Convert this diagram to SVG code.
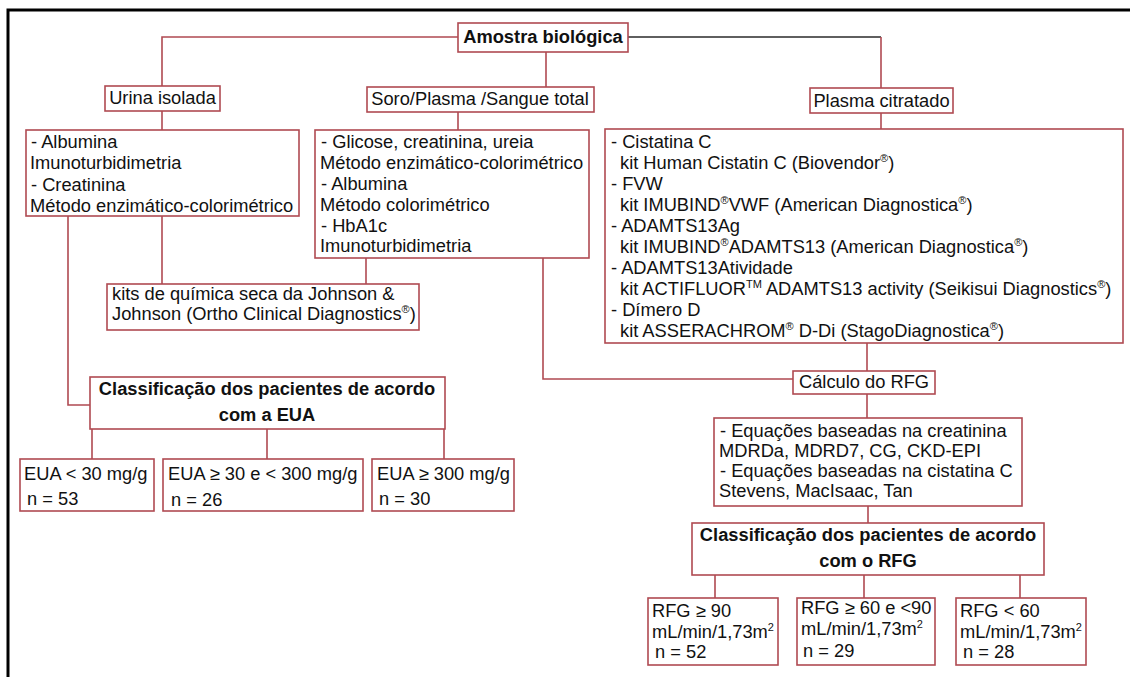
<svg xmlns="http://www.w3.org/2000/svg" width="1130" height="677" viewBox="0 0 1130 677">
<style>
.box{fill:#fff;stroke:#b04a52;stroke-width:1.6}
.ln{fill:none;stroke:#b04a52;stroke-width:1.6}
.lk{fill:none;stroke:#2a2a2a;stroke-width:1.6}
text{font-family:"Liberation Sans",Arial,sans-serif;font-size:18.3px;fill:#111}
.b{font-weight:bold}
.m{text-anchor:middle}
.sup{font-size:11px}
</style>
<rect width="1130" height="677" fill="#fff"/>
<path d="M8,677 V10 H1130" fill="none" stroke="#000" stroke-width="3"/>
<g id="connectors">
<path class="ln" d="M458,37 H162 V86"/>
<path class="lk" d="M628,37 H881"/>
<path class="ln" d="M881,37 V88"/>
<path class="ln" d="M546,52 V87"/>
<path class="ln" d="M162,111 V130"/>
<path class="ln" d="M458,112 V130"/>
<path class="ln" d="M881,113 V129"/>
<path class="ln" d="M162,216 V284"/>
<path class="ln" d="M366,258 V284"/>
<path class="ln" d="M68,216 V405 H90"/>
<path class="ln" d="M543,258 V379 H793"/>
<path class="ln" d="M867,343 V371"/>
<path class="ln" d="M867,394 V418"/>
<path class="ln" d="M868,506 V523"/>
<path class="ln" d="M715,575 V598 M864,575 V598 M1020,575 V598"/>
<path class="ln" d="M92,429 V459 M267,429 V459 M444,429 V459"/>
</g>
<g id="amostra"><rect class="box" x="458" y="23" width="170" height="29"/><text class="b m" x="543" y="43">Amostra biológica</text></g>
<g id="urina"><rect class="box" x="105" y="86" width="115" height="25"/><text class="m" x="162.5" y="104">Urina isolada</text></g>
<g id="soro"><rect class="box" x="367" y="87" width="227" height="25"/><text class="m" x="480" y="105">Soro/Plasma /Sangue total</text></g>
<g id="plasma"><rect class="box" x="810" y="88" width="143" height="25"/><text class="m" x="881.5" y="107">Plasma citratado</text></g>
<g id="urina-analitos"><rect class="box" x="26" y="130" width="273" height="86"/>
<text x="31" y="148">- Albumina</text>
<text x="30" y="169">Imunoturbidimetria</text>
<text x="31" y="191">- Creatinina</text>
<text x="30" y="212">Método enzimático-colorimétrico</text></g>
<g id="soro-analitos"><rect class="box" x="315" y="130" width="274" height="128"/>
<text x="321" y="148">- Glicose, creatinina, ureia</text>
<text x="320" y="169">Método enzimático-colorimétrico</text>
<text x="321" y="190">- Albumina</text>
<text x="320" y="211">Método colorimétrico</text>
<text x="321" y="232">- HbA1c</text>
<text x="320" y="252">Imunoturbidimetria</text></g>
<g id="plasma-analitos"><rect class="box" x="605" y="129" width="518" height="214"/>
<text x="611" y="148">- Cistatina C</text>
<text x="620" y="169">kit Human Cistatin C (Biovendor<tspan class="sup" dy="-7">®</tspan><tspan dy="7">)</tspan></text>
<text x="611" y="190">- FVW</text>
<text x="620" y="211">kit IMUBIND<tspan class="sup" dy="-7">®</tspan><tspan dy="7">VWF (American Diagnostica</tspan><tspan class="sup" dy="-7">®</tspan><tspan dy="7">)</tspan></text>
<text x="611" y="232">- ADAMTS13Ag</text>
<text x="620" y="253">kit IMUBIND<tspan class="sup" dy="-7">®</tspan><tspan dy="7">ADAMTS13 (American Diagnostica</tspan><tspan class="sup" dy="-7">®</tspan><tspan dy="7">)</tspan></text>
<text x="611" y="274">- ADAMTS13Atividade</text>
<text x="620" y="295">kit ACTIFLUOR<tspan class="sup" dy="-7">TM</tspan><tspan dy="7"> ADAMTS13 activity (Seikisui Diagnostics</tspan><tspan class="sup" dy="-7">®</tspan><tspan dy="7">)</tspan></text>
<text x="611" y="316">- Dímero D</text>
<text x="620" y="337">kit ASSERACHROM<tspan class="sup" dy="-7">®</tspan><tspan dy="7"> D-Di (StagoDiagnostica</tspan><tspan class="sup" dy="-7">®</tspan><tspan dy="7">)</tspan></text></g>
<g id="kits"><rect class="box" x="107" y="284" width="312" height="46"/>
<text x="112" y="300">kits de química seca da Johnson &amp;</text>
<text x="112" y="320">Johnson (Ortho Clinical Diagnostics<tspan class="sup" dy="-7">®</tspan><tspan dy="7">)</tspan></text></g>
<g id="classif-eua"><rect class="box" x="90" y="377" width="355" height="52"/>
<text class="b m" x="267" y="395">Classificação dos pacientes de acordo</text>
<text class="b m" x="267" y="421">com a EUA</text></g>
<g id="eua1"><rect class="box" x="20" y="459" width="134" height="52"/><text x="24" y="480">EUA &lt; 30 mg/g</text><text x="27" y="505">n = 53</text></g>
<g id="eua2"><rect class="box" x="163" y="459" width="200" height="52"/><text x="168" y="480">EUA ≥ 30 e &lt; 300 mg/g</text><text x="171" y="506">n = 26</text></g>
<g id="eua3"><rect class="box" x="372" y="459" width="142" height="52"/><text x="377" y="480">EUA ≥ 300 mg/g</text><text x="379" y="505">n = 30</text></g>
<g id="calculo"><rect class="box" x="793" y="371" width="142" height="23"/><text class="m" x="864" y="388">Cálculo do RFG</text></g>
<g id="equacoes"><rect class="box" x="714" y="418" width="308" height="88"/>
<text x="720" y="437">- Equações baseadas na creatinina</text>
<text x="719" y="457">MDRDa, MDRD7, CG, CKD-EPI</text>
<text x="720" y="477">- Equações baseadas na cistatina C</text>
<text x="719" y="497">Stevens, MacIsaac, Tan</text></g>
<g id="classif-rfg"><rect class="box" x="692" y="523" width="352" height="52"/>
<text class="b m" x="868" y="541">Classificação dos pacientes de acordo</text>
<text class="b m" x="868" y="567">com o RFG</text></g>
<g id="rfg1"><rect class="box" x="648" y="598" width="130" height="67"/>
<text x="652" y="617">RFG ≥ 90</text>
<text x="652" y="638">mL/min/1,73m<tspan class="sup" dy="-7">2</tspan></text>
<text x="655" y="658">n = 52</text></g>
<g id="rfg2"><rect class="box" x="797" y="598" width="138" height="67"/>
<text x="801" y="614">RFG ≥ 60 e &lt;90</text>
<text x="801" y="635">mL/min/1,73m<tspan class="sup" dy="-7">2</tspan></text>
<text x="803" y="657">n = 29</text></g>
<g id="rfg3"><rect class="box" x="956" y="598" width="130" height="67"/>
<text x="960" y="617">RFG &lt; 60</text>
<text x="960" y="638">mL/min/1,73m<tspan class="sup" dy="-7">2</tspan></text>
<text x="963" y="658">n = 28</text></g>
</svg>
